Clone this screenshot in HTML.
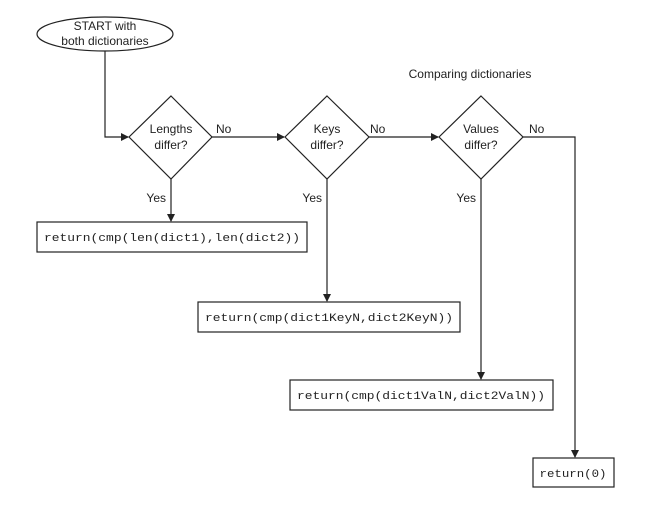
<!DOCTYPE html>
<html><head><meta charset="utf-8"><style>
html,body{margin:0;padding:0;background:#fff;}
svg{display:block;}
.s{font-family:"Liberation Sans",sans-serif;font-size:12px;fill:#222;}
.m{font-family:"Liberation Mono",monospace;font-size:11px;fill:#222;}
</style></head><body>
<svg width="658" height="515" viewBox="0 0 658 515" xmlns="http://www.w3.org/2000/svg">
<defs><marker id="a" markerWidth="8" markerHeight="8" refX="7" refY="4" orient="auto" markerUnits="userSpaceOnUse"><path d="M0,0 L8,4 L0,8 z" fill="#222"/></marker></defs>
<g stroke="#222" stroke-width="1.2" fill="none">
<ellipse cx="105" cy="34" rx="68" ry="17"/>
<polyline points="105,51 105,137 128,137" marker-end="url(#a)"/>
<polygon points="171,96 212,137 171,179 129,137" fill="#fff"/>
<line x1="212" y1="137" x2="284" y2="137" marker-end="url(#a)"/>
<polygon points="327,96 369,137 327,179 285,137" fill="#fff"/>
<line x1="369" y1="137" x2="438" y2="137" marker-end="url(#a)"/>
<polygon points="481,96 523,137 481,179 439,137" fill="#fff"/>
<polyline points="523,137 575,137 575,457" marker-end="url(#a)"/>
<line x1="171" y1="179" x2="171" y2="221" marker-end="url(#a)"/>
<line x1="327" y1="179" x2="327" y2="301" marker-end="url(#a)"/>
<line x1="481" y1="179" x2="481" y2="379" marker-end="url(#a)"/>
<rect x="37" y="222" width="270" height="30"/>
<rect x="198" y="302" width="262" height="30"/>
<rect x="290" y="380" width="263" height="30"/>
<rect x="533" y="458" width="81" height="29"/>
</g>
<text class="s" x="105" y="30" text-anchor="middle">START with</text>
<text class="s" x="105" y="45" text-anchor="middle">both dictionaries</text>
<text class="s" x="470" y="78" text-anchor="middle">Comparing dictionaries</text>
<text class="s" x="171" y="133" text-anchor="middle">Lengths</text>
<text class="s" x="171" y="149" text-anchor="middle">differ?</text>
<text class="s" x="327" y="133" text-anchor="middle">Keys</text>
<text class="s" x="327" y="149" text-anchor="middle">differ?</text>
<text class="s" x="481" y="133" text-anchor="middle">Values</text>
<text class="s" x="481" y="149" text-anchor="middle">differ?</text>
<text class="s" x="216" y="133">No</text>
<text class="s" x="370" y="133">No</text>
<text class="s" x="529" y="133">No</text>
<text class="s" x="166" y="202" text-anchor="end">Yes</text>
<text class="s" x="322" y="202" text-anchor="end">Yes</text>
<text class="s" x="476" y="202" text-anchor="end">Yes</text>
<text class="m" x="172" y="241" text-anchor="middle" textLength="256" lengthAdjust="spacingAndGlyphs">return(cmp(len(dict1),len(dict2))</text>
<text class="m" x="329" y="321" text-anchor="middle" textLength="248" lengthAdjust="spacingAndGlyphs">return(cmp(dict1KeyN,dict2KeyN))</text>
<text class="m" x="421" y="399" text-anchor="middle" textLength="248" lengthAdjust="spacingAndGlyphs">return(cmp(dict1ValN,dict2ValN))</text>
<text class="m" x="573" y="477" text-anchor="middle" textLength="67" lengthAdjust="spacingAndGlyphs">return(0)</text>
</svg>
</body></html>
